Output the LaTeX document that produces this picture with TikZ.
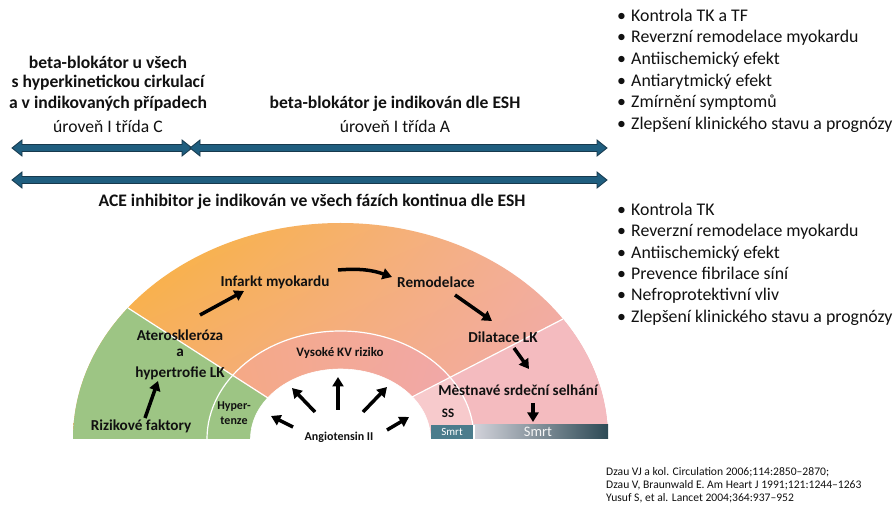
\documentclass[tikz,border=0pt]{standalone}
\usepackage{fontspec}
\setmainfont{Carlito}
\usetikzlibrary{arrows.meta,calc,shadings}
\definecolor{arrfill}{HTML}{1F5E7F}
\definecolor{arrline}{HTML}{17394D}
\definecolor{grn}{HTML}{9DC584}
\definecolor{pnk}{HTML}{F4BBBF}
\definecolor{ssp}{HTML}{F7CACC}
\definecolor{smrtA}{HTML}{4B7C8C}
\definecolor{smrtL}{HTML}{D2D2DA}
\definecolor{smrtR}{HTML}{2D4A55}
\definecolor{txt}{HTML}{111111}
\definecolor{oUL}{RGB}{250,180,44}
\definecolor{oUR}{RGB}{242,174,166}
\definecolor{oLL}{RGB}{246,174,108}
\definecolor{oLR}{RGB}{240,168,180}
\definecolor{mUL}{RGB}{245,170,132}
\definecolor{mUR}{RGB}{241,168,168}
\definecolor{mLL}{RGB}{246,168,126}
\definecolor{mLR}{RGB}{240,168,176}
\tikzset{
  outerE/.style={insert path={(73,67) arc[start angle=180,end angle=0,x radius=267.5pt,y radius=216pt] -- cycle}},
  middleE/.style={insert path={(207,67) arc[start angle=180,end angle=0,x radius=133.5pt,y radius=108pt] -- cycle}},
  innerE/.style={insert path={(250.5,67) arc[start angle=180,end angle=0,x radius=90pt,y radius=70pt] -- cycle}},
  blockarrow/.style={fill=arrfill, draw=arrline, line width=0.8pt, line join=miter},
  head/.style={font=\fontsize{17.6}{21}\selectfont\bfseries, text=txt, inner sep=0pt},
  sub/.style={font=\fontsize{17.6}{21}\selectfont, text=txt, inner sep=0pt},
  bul/.style={font=\fontsize{17.8}{21}\selectfont, text=txt, inner sep=0pt, anchor=mid west},
  lab/.style={font=\fontsize{15.2}{17}\selectfont\bfseries, text=txt, inner sep=0pt},
  small/.style={font=\fontsize{12.9}{14}\selectfont\bfseries, text=txt, inner sep=0pt},
  ref/.style={font=\fontsize{11.6}{13}\selectfont, text=txt, inner sep=0pt, anchor=mid west},
  flow/.style={line width=3.5pt, draw=black, -{Triangle[length=9.5pt,width=11pt]}},
  divider/.style={draw=white, line width=1.2pt}
}
\newcommand{\blockarr}[2]{\filldraw[blockarrow] let \p1=(#1), \p2=(#2) in
  (\p1) -- ++(10,8) -- ++(0,-4.5) -- (\x2-10pt,\y2+3.5pt) -- ++(0,4.5) -- (\p2)
  -- ++(-10,-8) -- ++(0,4.5) -- (\x1+10pt,\y1-3.5pt) -- ++(0,-4.5) -- cycle;}
\begin{document}
\begin{tikzpicture}[x=1pt,y=1pt]
\useasboundingbox (0,0) rectangle (894,506);
\fill[white] (0,0) rectangle (894,506);

% ---------- top texts ----------
\node[head] (bb1) at (108,444) {beta-blokátor u všech};
\node[head] (bb2) at (108,423) {s hyperkinetickou cirkulací};
\node[head] (bb3) at (108,402) {a v indikovaných případech};
\node[sub]  (bb4) at (108,380) {úroveň I třída C};
\node[head] (bj1) at (395,402) {beta-blokátor je indikován dle ESH};
\node[sub]  (bj2) at (395,380) {úroveň I třída A};
\node[head] (ace) at (312,304) {ACE inhibitor je indikován ve všech fázích kontinua dle ESH};

% ---------- block arrows ----------
\coordinate (a1L) at (12,358);
\coordinate (a1R) at (192,358);
\coordinate (a2L) at (190,358);
\coordinate (a2R) at (607,358);
\coordinate (a3L) at (12,326);
\coordinate (a3R) at (607,326);
\blockarr{a1L}{a1R}
\blockarr{a2L}{a2R}
\blockarr{a3L}{a3R}

% ---------- bullet lists ----------
\foreach \t [count=\i] in {Kontrola TK a TF,Reverzní remodelace myokardu,Antiischemický efekt,Antiarytmický efekt,Zmírnění symptomů,Zlepšení klinického stavu a prognózy}{
  \node[bul] (bA\i) at (617,{487-21.6*(\i-1)}) {•};
  \node[bul] (tA\i) at (631,{487-21.6*(\i-1)}) {\t};
}
\foreach \t [count=\i] in {Kontrola TK,Reverzní remodelace myokardu,Antiischemický efekt,Prevence fibrilace síní,Nefroprotektivní vliv,Zlepšení klinického stavu a prognózy}{
  \node[bul] (bB\i) at (617,{293-21.4*(\i-1)}) {•};
  \node[bul] (tB\i) at (631,{293-21.4*(\i-1)}) {\t};
}

% ---------- semicircle ----------
\begin{scope}
  \clip[outerE];
  \shade[upper left=oUL, upper right=oUR, lower left=oLL, lower right=oLR]
         (73,67) rectangle (608,283);
  \begin{scope}
    \clip[middleE];
    \shade[upper left=mUL, upper right=mUR, lower left=mLL, lower right=mLR]
           (207,67) rectangle (474,175);
  \end{scope}
  \fill[grn] (-12,289) -- (338,61.5) -- (-12,61.5) -- cycle;
  \fill[pnk] (714,266) -- (321,60.6) -- (714,60.6) -- cycle;
  \begin{scope}
    \clip[middleE];
    \fill[ssp] (714,266) -- (321,60.6) -- (714,60.6) -- cycle;
  \end{scope}
\end{scope}
\coordinate (dL1) at (128,198);
\coordinate (dL2) at (268,108);
\coordinate (dR1) at (563,187);
\coordinate (dR2) at (412,109);
\draw[divider] (dL1) -- (dL2);
\draw[divider] (dR1) -- (dR2);
\draw[divider] (207,67) arc[start angle=180,end angle=0,x radius=133.5pt,y radius=108pt];
\fill[white, draw=white, line width=0.6pt][innerE];

% Smrt bars
\fill[smrtA] (430.5,67) rectangle (474,81);
\shade[left color=smrtL, right color=smrtR] (474,67) rectangle (608,81);
\draw[divider] (474,67) -- (474,81);
\node[font=\fontsize{11}{12}\selectfont, text=white, inner sep=0pt] (sm1) at (452,74) {Smrt};
\node[font=\fontsize{14.5}{15}\selectfont, text=white!92!gray, inner sep=0pt] (sm2) at (538,74) {Smrt};

% ---------- diagram labels ----------
\node[lab] (inf) at (275,224) {Infarkt myokardu};
\node[lab] (rem) at (436,224) {Remodelace};
\node[lab] (dil) at (503,169) {Dilatace LK};
\node[lab] (mss) at (518,116) {Mèstnavé srdeční selhání};
\node[small, font=\fontsize{13}{14}\selectfont\bfseries] (ss) at (448,93) {SS};
\node[lab] (ate) at (180,171) {Ateroskleróza};
\node[lab] (aa) at (180,153) {a};
\node[lab] (hyp) at (180,133) {hypertrofie LK};
\node[lab] (riz) at (141,80) {Rizikové faktory};
\node[small, font=\fontsize{12}{13}\selectfont\bfseries] (ht1) at (234,99) {Hyper-};
\node[small, font=\fontsize{12}{13}\selectfont\bfseries] (ht2) at (234,85) {tenze};
\node[small] (vkv) at (340,153) {Vysoké KV riziko};
\node[small, font=\fontsize{12}{13}\selectfont\bfseries] (ang) at (339,69) {Angiotensin II};

% ---------- flow arrows ----------
\coordinate (f1s) at (200,191); \coordinate (f1e) at (244,215);
\coordinate (f2s) at (338,236); \coordinate (f2e) at (392,229);
\coordinate (f3s) at (455,211); \coordinate (f3e) at (492,185);
\coordinate (f4s) at (514,158); \coordinate (f4e) at (529,137);
\coordinate (f5s) at (533,103); \coordinate (f5e) at (533,84);
\coordinate (f6s) at (145,88);  \coordinate (f6e) at (158,125);
\draw[flow] (f1s) -- (f1e);
\draw[flow] (f2s) to[bend left=12] (f2e);
\draw[flow] (f3s) -- (f3e);
\draw[flow] (f4s) -- (f4e);
\draw[flow] (f5s) -- (f5e);
\draw[flow] (f6s) -- (f6e);
% angiotensin arrows
\coordinate (g1s) at (293,79);  \coordinate (g1e) at (271,90);
\coordinate (g2s) at (315,94);  \coordinate (g2e) at (292,118);
\coordinate (g3s) at (338,96);  \coordinate (g3e) at (338,129);
\coordinate (g4s) at (363,94);  \coordinate (g4e) at (387,119);
\coordinate (g5s) at (387,76);  \coordinate (g5e) at (409,89);
\foreach \k in {1,...,5}{\draw[flow] (g\k s) -- (g\k e);}

% ---------- references ----------
\node[ref] (r1) at (606,33) {Dzau VJ a kol. Circulation 2006;114:2850–2870;};
\node[ref] (r2) at (606,19.5) {Dzau V, Braunwald E. Am Heart J 1991;121:1244–1263};
\node[ref] (r3) at (606,6.5) {Yusuf S, et al. Lancet 2004;364:937–952};
\end{tikzpicture}
\end{document}
